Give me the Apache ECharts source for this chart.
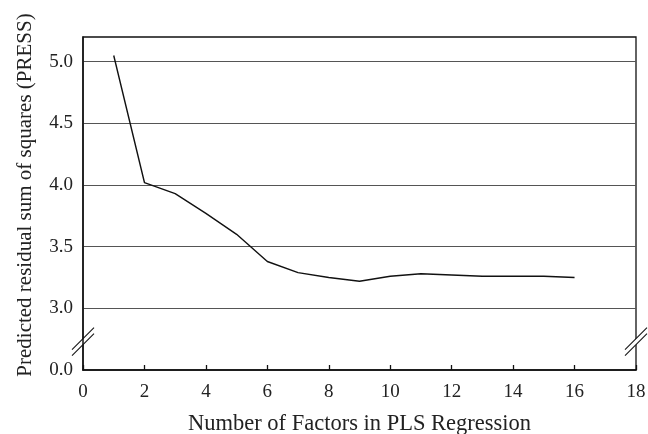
<!DOCTYPE html>
<html>
<head>
<meta charset="utf-8">
<script src="https://cdn.jsdelivr.net/npm/echarts@6/dist/echarts.min.js"></script>
<style>
  html, body { margin: 0; padding: 0; background: #fff; }
  #chart { width: 648px; height: 434px; }
</style>
</head>
<body>
<div id="chart"></div>
<script>
// number of PLS factors and the PRESS
const factors = [1, 2, 3, 4, 5, 6, 7, 8, 9, 10, 11, 12, 13, 14, 15, 16]
const press = [5.05, 4.02, 3.93, 3.77, 3.6, 3.38, 3.29, 3.25, 3.22, 3.26, 3.28, 3.27, 3.26, 3.26, 3.26, 3.25]

// y axis is broken: the bottom of the axis stands for 0.0
const yMin = 2.5
const yMax = 5.2
const yStep = 0.5
const yBottomLabel = '0.0'
const breakAt = 2.73

const xTicks = [0, 2, 4, 6, 8, 10, 12, 14, 16, 18]

const serif = '"Liberation Serif", "DejaVu Serif", serif'

const chart = echarts.init(document.getElementById('chart'))

chart.setOption({
  animation: false,
  backgroundColor: '#fff',
  grid: {
    left: 83,
    right: 12,
    top: 37,
    bottom: 64,
    outerBoundsMode: 'none',
    show: true,
    borderColor: '#111',
    borderWidth: 1.3
  },
  xAxis: {
    type: 'value',
    min: xTicks[0],
    max: xTicks[xTicks.length - 1],
    interval: xTicks[1] - xTicks[0],
    name: 'Number of Factors in PLS Regression',
    nameLocation: 'middle',
    nameGap: 43,
    nameTextStyle: { fontFamily: serif, fontSize: 22.5, color: '#222' },
    axisLine: { lineStyle: { color: '#111', width: 1.5 } },
    axisTick: { inside: true, length: 5, lineStyle: { color: '#111', width: 1.3 } },
    axisLabel: { fontFamily: serif, fontSize: 19, color: '#222', margin: 13 },
    splitLine: { show: false }
  },
  yAxis: {
    type: 'value',
    min: yMin,
    max: yMax,
    interval: yStep,
    name: 'Predicted residual sum of squares (PRESS)',
    nameLocation: 'middle',
    nameGap: 47,
    nameTextStyle: { fontFamily: serif, fontSize: 21, color: '#222', padding: [0, 0, 0, 17] },
    axisLine: { lineStyle: { color: '#111', width: 1.5 } },
    axisTick: { show: false },
    axisLabel: {
      fontFamily: serif,
      fontSize: 19,
      color: '#222',
      margin: 10,
      formatter: function (v) {
        if (Math.abs(v - yMin) < 1e-6) return yBottomLabel
        if (v > yMax - 0.1) return ''
        return v.toFixed(1)
      }
    },
    splitLine: {
      show: true,
      showMinLine: false,
      showMaxLine: false,
      lineStyle: { color: '#555', width: 1.2 }
    }
  },
  series: [{
    type: 'line',
    data: factors.map((f, i) => [f, press[i]]),
    symbol: 'none',
    lineStyle: { color: '#111', width: 1.4 }
  }]
})

// double-slash break marks on both vertical axes
function breakMark(xVal) {
  const p = chart.convertToPixel({ gridIndex: 0 }, [xVal, breakAt])
  const dx = 11, dy = 11, off = 3
  return [
    {
      type: 'polygon',
      shape: { points: [[p[0] - dx, p[1] + dy - off], [p[0] + dx, p[1] - dy - off], [p[0] + dx, p[1] - dy + off], [p[0] - dx, p[1] + dy + off]] },
      style: { fill: '#fff' }
    },
    {
      type: 'line',
      shape: { x1: p[0] - dx, y1: p[1] + dy - off, x2: p[0] + dx, y2: p[1] - dy - off },
      style: { stroke: '#111', lineWidth: 1.1 }
    },
    {
      type: 'line',
      shape: { x1: p[0] - dx, y1: p[1] + dy + off, x2: p[0] + dx, y2: p[1] - dy + off },
      style: { stroke: '#111', lineWidth: 1.1 }
    }
  ]
}

chart.setOption({
  graphic: breakMark(xTicks[0]).concat(breakMark(xTicks[xTicks.length - 1]))
})
</script>
</body>
</html>
